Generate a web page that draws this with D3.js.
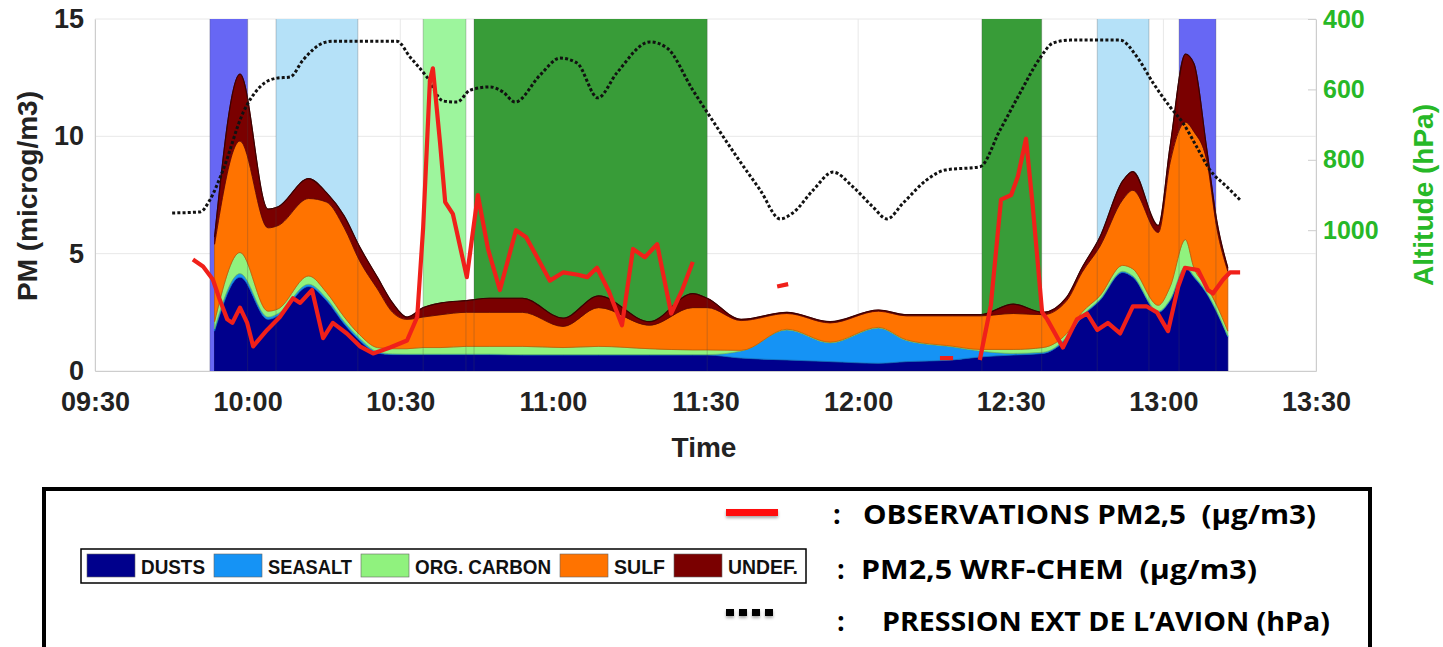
<!DOCTYPE html>
<html>
<head>
<meta charset="utf-8">
<script src="https://cdn.jsdelivr.net/npm/d3@7"></script>
<style>
  body { margin: 0; background: #fff; }
  svg { display: block; }
  text { white-space: pre; }
</style>
</head>
<body>
<div id="plot"></div>
<script>
// ---- data ----
const xTickLabels = ["09:30", "10:00", "10:30", "11:00", "11:30", "12:00", "12:30", "13:00", "13:30"];
const pmTicks = [0, 5, 10, 15];
const pressTicks = [400, 600, 800, 1000];

// flight phases shaded behind the model
const bandStart = ["09:52:35", "10:05:35", "10:34:30", "10:44:30", "12:24:20", "12:47:00", "13:03:05"];
const bandEnd   = ["10:00:00", "10:21:40", "10:42:55", "11:30:20", "12:36:05", "12:57:10", "13:10:20"];
const bandKind  = ["dust", "sea", "org", "free", "free", "sea", "dust"];

// WRF-CHEM PM2.5 components (microg/m3)
const layerKeys = ["DUSTS", "SEASALT", "ORG. CARBON", "SULF", "UNDEF."];
const modelTimes = ["09:53:30", "09:58:30", "10:04:00", "10:06:00", "10:12:00", "10:15:30", "10:19:00",
  "10:22:00", "10:25:30", "10:28:30", "10:31:20", "10:34:30", "10:38:00", "10:43:00", "10:47:30",
  "10:54:00", "11:02:00", "11:09:00", "11:19:00", "11:27:30", "11:30:20", "11:37:00", "11:46:00",
  "11:54:30", "12:04:00", "12:09:30", "12:18:30", "12:24:00", "12:30:30", "12:36:20", "12:41:00",
  "12:44:00", "12:47:30", "12:52:00", "12:54:00", "12:59:00", "13:01:20", "13:04:20", "13:06:00",
  "13:08:30", "13:10:30", "13:12:40"];
const dusts = [1.7, 4.0, 2.2, 2.35, 3.6, 3.0, 2.0, 1.3, 0.77, 0.7, 0.7, 0.7, 0.7, 0.7, 0.7,
  0.68, 0.68, 0.68, 0.68, 0.68, 0.68, 0.55, 0.47, 0.4, 0.33, 0.4, 0.47, 0.6, 0.68, 0.75, 1.4,
  2.3, 3.0, 4.2, 4.0, 2.5, 3.0, 4.4, 4.0, 3.3, 2.5, 1.45];
const seasalt = [0.1, 0.15, 0.1, 0.1, 0.1, 0.1, 0.1, 0.1, 0.05, 0.03, 0.02, 0.02, 0.02, 0.02, 0.02,
  0.02, 0.02, 0.02, 0.02, 0.02, 0.02, 0.3, 1.28, 0.8, 1.5, 0.9, 0.56, 0.25, 0.07, 0.05, 0.05,
  0.05, 0.05, 0.05, 0.05, 0.05, 0.05, 0.05, 0.05, 0.05, 0.05, 0.05];
const orgCarbon = [0.3, 0.9, 0.25, 0.2, 0.35, 0.25, 0.2, 0.15, 0.18, 0.22, 0.23, 0.28, 0.28, 0.33, 0.33,
  0.35, 0.3, 0.35, 0.25, 0.2, 0.2, 0.03, 0.03, 0.03, 0.03, 0.03, 0.03, 0.07, 0.17, 0.2, 0.15,
  0.15, 0.15, 0.25, 0.3, 0.25, 0.55, 1.15, 0.35, 0.25, 0.25, 0.2];
const sulf = [3.3, 4.75, 3.55, 3.55, 3.3, 3.85, 3.8, 3.15, 2.5, 1.55, 1.25, 1.3, 1.4, 1.45, 1.45,
  1.45, 0.9, 1.65, 1.0, 1.8, 1.8, 1.27, 0.67, 0.82, 0.69, 1.02, 1.29, 1.43, 1.53, 1.4, 1.4,
  1.7, 2.1, 2.8, 3.35, 3.1, 5.3, 5.0, 5.8, 5.4, 3.3, 2.55];
const undef = [0.3, 2.85, 0.8, 0.8, 0.85, 0.4, 0.5, 0.6, 0.5, 0.4, 0.1, 0.4, 0.5, 0.5, 0.6,
  0.6, 0.35, 0.5, 0.15, 0.6, 0.4, 0.05, 0.05, 0.05, 0.05, 0.05, 0.05, 0.05, 0.4, 0.1, 0.15,
  0.2, 0.4, 0.8, 0.8, 0.3, 0.7, 2.9, 2.9, 0.5, 0.3, 0.15];

// observed PM2.5 (null = gap in the record)
const obsTimes = ["09:49:15", "09:51:15", "09:53:10", "09:54:35", "09:56:00", "09:57:00", "09:58:30",
  "09:59:55", "10:01:05", "10:03:50", "10:06:20", "10:08:55", "10:10:20", "10:12:40", "10:14:50",
  "10:16:45", "10:19:30", "10:22:05", "10:24:40", "10:28:00", "10:31:20", "10:33:20", "10:34:30",
  "10:35:50", "10:36:25", "10:37:50", "10:38:50", "10:40:20", "10:43:05", "10:45:15", "10:47:15",
  "10:49:35", "10:52:45", "10:54:45", "10:59:25", "11:02:00", "11:04:55", "11:06:45", "11:08:40",
  "11:11:00", "11:13:35", "11:15:45", "11:18:05", "11:20:30", "11:23:15", "11:25:25", "11:27:30",
  "11:35:00", "11:44:05", "11:46:15", "12:00:00", "12:16:05", "12:18:40", "12:21:00", "12:23:55",
  "12:26:05", "12:28:05", "12:30:05", "12:31:25", "12:33:00", "12:34:20", "12:36:10", "12:37:10",
  "12:40:15", "12:43:00", "12:45:00", "12:47:00", "12:49:05", "12:51:30", "12:54:00", "12:56:45",
  "12:58:45", "13:00:55", "13:02:55", "13:04:15", "13:06:50", "13:08:45", "13:09:45", "13:11:45",
  "13:13:05", "13:15:05"];
const obsValues = [4.75, 4.45, 3.9, 3.0, 2.2, 2.05, 2.7,
  2.05, 1.05, 1.75, 2.3, 3.1, 2.9, 3.45, 1.4,
  2.05, 1.6, 1.05, 0.75, 1.0, 1.3, 2.3, 6.1,
  12.4, 12.9, 9.7, 7.2, 6.7, 4.0, 7.5, 5.2,
  3.45, 6.0, 5.7, 3.85, 4.2, 4.1, 4.0, 4.4,
  3.4, 1.95, 5.2, 4.85, 5.4, 2.45, 3.45, 4.65,
  null, 3.6, 3.7, null, 0.55, 0.55, null, 0.47,
  2.8, 7.3, 7.5, 8.3, 9.9, 7.0, 2.5, 2.2,
  1.0, 2.2, 2.45, 1.75, 2.05, 1.6, 2.75, 2.75,
  2.5, 1.7, 3.6, 4.4, 4.3, 3.45, 3.3, 3.9,
  4.2, 4.2];

// aircraft outside pressure (hPa)
const pressTimes = ["09:45:10", "09:50:40", "09:52:35", "09:55:10", "09:59:05", "10:02:25", "10:05:45",
  "10:08:20", "10:10:55", "10:14:50", "10:16:45", "10:29:20", "10:31:55", "10:35:15", "10:38:25",
  "10:41:10", "10:43:45", "10:47:40", "10:50:10", "10:52:35", "10:57:30", "11:01:25", "11:04:45",
  "11:08:50", "11:12:35", "11:19:05", "11:22:25", "11:27:30", "11:30:55", "11:36:10", "11:40:45",
  "11:44:40", "11:47:10", "11:51:10", "11:55:05", "11:59:00", "12:02:55", "12:05:40", "12:08:50",
  "12:13:30", "12:17:05", "12:23:55", "12:27:55", "12:31:50", "12:35:45", "12:38:20", "12:41:40",
  "12:51:30", "12:54:50", "12:58:00", "13:01:20", "13:03:50", "13:06:35", "13:09:10", "13:12:30",
  "13:15:05"];
const pressValues = [951, 948, 914, 829, 667, 593, 568,
  565, 516, 468, 463, 463, 508, 565, 633,
  636, 602, 593, 607, 636, 559, 511, 525,
  624, 553, 465, 482, 602, 678, 792, 886,
  968, 951, 886, 835, 877, 934, 968, 923,
  857, 829, 820, 715, 610, 511, 468, 460,
  460, 508, 582, 650, 695, 764, 829, 877,
  914];

const legendNotes = ["OBSERVATIONS PM2,5  (\u00b5g/m3)", "PM2,5 WRF-CHEM  (\u00b5g/m3)", "PRESSION EXT DE L\u2019AVION (hPa)"];

// ---- styles ----
const bandColor = {dust: "#6767f4", sea: "#b5e1f8", org: "#9df59d", free: "#389c38"};
const layerColor = {"DUSTS": "#00008c", "SEASALT": "#1593f5", "ORG. CARBON": "#90f27e", "SULF": "#ff7300", "UNDEF.": "#7a0000"};
const green = "#27b827";
const font = "'Liberation Sans', Arial, Helvetica, sans-serif";

const width = 1443, height = 647;
const plot = {left: 95, right: 1316, top: 19, bottom: 371};

const svg = d3.select("#plot").append("svg")
    .attr("width", width)
    .attr("height", height);

svg.append("rect").attr("width", width).attr("height", height).attr("fill", "#fff");

const parseHMS = d3.timeParse("%H:%M:%S");
const parseHM = d3.timeParse("%H:%M");
const t = s => parseHMS(s) || parseHM(s);

const x = d3.scaleTime()
    .domain([t("09:30"), t("13:30")])
    .range([plot.left, plot.right]);
const yPM = d3.scaleLinear().domain([0, 15]).range([plot.bottom, plot.top]);
const yP = d3.scaleLinear().domain([400, 1400]).range([plot.top, plot.bottom]);

// grid
svg.append("g").selectAll("line").data(xTickLabels).join("line")
    .attr("x1", d => x(t(d))).attr("x2", d => x(t(d)))
    .attr("y1", plot.top).attr("y2", plot.bottom)
    .attr("stroke", "#e8e8e8");
svg.append("g").selectAll("line").data(pmTicks).join("line")
    .attr("x1", plot.left).attr("x2", plot.right)
    .attr("y1", d => yPM(d)).attr("y2", d => yPM(d))
    .attr("stroke", "#e8e8e8");

// shaded bands
const bands = bandStart.map((s, i) => ({s: t(s), e: t(bandEnd[i]), kind: bandKind[i]}));
svg.append("g").selectAll("rect").data(bands).join("rect")
    .attr("x", d => x(d.s))
    .attr("width", d => x(d.e) - x(d.s))
    .attr("y", plot.top)
    .attr("height", plot.bottom - plot.top)
    .attr("fill", d => bandColor[d.kind]);

// stacked model areas
const table = modelTimes.map((s, i) => ({
  time: t(s), "DUSTS": dusts[i], "SEASALT": seasalt[i], "ORG. CARBON": orgCarbon[i],
  "SULF": sulf[i], "UNDEF.": undef[i]
}));
const series = d3.stack().keys(layerKeys)(table);
const area = d3.area()
    .x(d => x(d.data.time))
    .y0(d => yPM(d[0]))
    .y1(d => yPM(d[1]))
    .curve(d3.curveMonotoneX);
svg.append("g").selectAll("path").data(series).join("path")
    .attr("d", area)
    .attr("fill", d => layerColor[d.key])
    .attr("stroke", d => d3.color(layerColor[d.key]).darker(0.7))
    .attr("stroke-width", 0.8);
// dark outline on top of the stack
svg.append("path")
    .datum(series[series.length - 1])
    .attr("d", d3.line().x(d => x(d.data.time)).y(d => yPM(d[1])).curve(d3.curveMonotoneX))
    .attr("fill", "none")
    .attr("stroke", "#3a0000")
    .attr("stroke-width", 1.2);

// band edges show through the stack
const edges = bands.flatMap(d => [d.s, d.e]);
svg.append("g").selectAll("line").data(edges).join("line")
    .attr("x1", d => x(d)).attr("x2", d => x(d))
    .attr("y1", plot.top).attr("y2", plot.bottom)
    .attr("stroke", "#444")
    .attr("stroke-opacity", 0.35)
    .attr("stroke-width", 0.8);

// axes
const styleAxis = (g, color, size) => {
  g.select(".domain").attr("stroke", "#cdcdcd");
  g.selectAll(".tick line").attr("stroke", "#cdcdcd");
  g.selectAll(".tick text")
      .attr("font-family", font)
      .attr("font-weight", "bold")
      .attr("font-size", size)
      .attr("fill", color);
};
svg.append("g")
    .attr("transform", `translate(0,${plot.bottom})`)
    .call(d3.axisBottom(x).tickValues(xTickLabels.map(t)).tickFormat(d3.timeFormat("%H:%M"))
      .tickSize(0).tickPadding(21))
    .call(g => styleAxis(g, "#222", 27));
svg.append("g")
    .attr("transform", `translate(${plot.left},0)`)
    .call(d3.axisLeft(yPM).tickValues(pmTicks).tickSize(0).tickPadding(11))
    .call(g => styleAxis(g, "#222", 27));
svg.append("g")
    .attr("transform", `translate(${plot.right},0)`)
    .call(d3.axisRight(yP).tickValues(pressTicks).tickFormat(d3.format("d"))
      .tickSizeInner(-8).tickSizeOuter(0).tickPadding(7))
    .call(g => styleAxis(g, green, 25));

// axis titles
svg.append("text")
    .attr("transform", "translate(27,196) rotate(-90)")
    .attr("text-anchor", "middle").attr("dominant-baseline", "central")
    .attr("font-family", font).attr("font-weight", "bold").attr("font-size", 28)
    .attr("fill", "#222").text("PM (microg/m3)");
svg.append("text")
    .attr("x", 704).attr("y", 447)
    .attr("text-anchor", "middle").attr("dominant-baseline", "central")
    .attr("font-family", font).attr("font-weight", "bold").attr("font-size", 28)
    .attr("fill", "#222").text("Time");
svg.append("text")
    .attr("transform", "translate(1423,195) rotate(-90)")
    .attr("text-anchor", "middle").attr("dominant-baseline", "central")
    .attr("font-family", font).attr("font-weight", "bold").attr("font-size", 28)
    .attr("fill", green).text("Altitude (hPa)");

// pressure (dotted)
const press = pressTimes.map((s, i) => ({time: t(s), v: pressValues[i]}));
svg.append("path")
    .datum(press)
    .attr("d", d3.line().x(d => x(d.time)).y(d => yP(d.v)).curve(d3.curveMonotoneX))
    .attr("fill", "none")
    .attr("stroke", "#111")
    .attr("stroke-width", 3)
    .attr("stroke-dasharray", "3,2.2");

// observations (red)
const obs = obsTimes.map((s, i) => ({time: t(s), v: obsValues[i]}));
svg.append("path")
    .datum(obs)
    .attr("d", d3.line().defined(d => d.v != null).x(d => x(d.time)).y(d => yPM(d.v)))
    .attr("fill", "none")
    .attr("stroke", "#f0201a")
    .attr("stroke-width", 4.2)
    .attr("stroke-linejoin", "round");

// ---- legend ----
const defs = svg.append("defs");
defs.append("filter").attr("id", "shadow")
    .attr("filterUnits", "userSpaceOnUse")
    .attr("x", 0).attr("y", 0).attr("width", width).attr("height", height)
  .append("feDropShadow").attr("dx", 0).attr("dy", 2).attr("stdDeviation", 1.5)
  .attr("flood-color", "#000").attr("flood-opacity", 0.35);

svg.append("rect")
    .attr("x", 44).attr("y", 489).attr("width", 1326).attr("height", 200)
    .attr("fill", "none").attr("stroke", "#000").attr("stroke-width", 4);

// component legend (condensed labels)
const keyTextW = [64, 84, 136, 51, 70];
const leg = svg.append("g");
leg.append("rect")
    .attr("x", 81).attr("y", 549).attr("width", 725).attr("height", 34)
    .attr("fill", "#fff").attr("stroke", "#000").attr("stroke-width", 1.5);
let lx = 87;
layerKeys.forEach((k, i) => {
  leg.append("rect")
      .attr("x", lx).attr("y", 554).attr("width", 48).attr("height", 23)
      .attr("fill", layerColor[k]).attr("stroke", "#666").attr("stroke-width", 0.6);
  leg.append("text")
      .attr("x", lx + 54).attr("y", 574)
      .attr("font-family", font).attr("font-weight", "bold").attr("font-size", 20)
      .attr("textLength", keyTextW[i]).attr("lengthAdjust", "spacingAndGlyphs")
      .attr("fill", "#111").text(k);
  lx += 54 + keyTextW[i] + 9;
});

// line samples
svg.append("rect")
    .attr("x", 726).attr("y", 509).attr("width", 52).attr("height", 7)
    .attr("fill", "#ff0d0d").attr("filter", "url(#shadow)");
svg.append("path")
    .datum([[726, 612.5], [778, 612.5]])
    .attr("d", d3.line())
    .attr("fill", "none")
    .attr("stroke", "#000").attr("stroke-width", 7)
    .attr("stroke-dasharray", "8,5")
    .attr("filter", "url(#shadow)");

const noteY = [524, 579, 631];
const colonX = [833, 837, 837];
const noteX = [863, 861, 882];
const noteW = [453, 396, 448];
legendNotes.forEach((s, i) => {
  svg.append("text")
      .attr("x", colonX[i]).attr("y", noteY[i])
      .attr("font-family", "'Open Sans', sans-serif").attr("font-weight", "bold").attr("font-size", 27)
      .attr("fill", "#000").text(":");
  svg.append("text")
      .attr("x", noteX[i]).attr("y", noteY[i])
      .attr("font-family", "'Open Sans', sans-serif").attr("font-weight", "bold").attr("font-size", 27)
      .attr("textLength", noteW[i]).attr("lengthAdjust", "spacingAndGlyphs")
      .attr("fill", "#000").text(s);
});
</script>
</body>
</html>
